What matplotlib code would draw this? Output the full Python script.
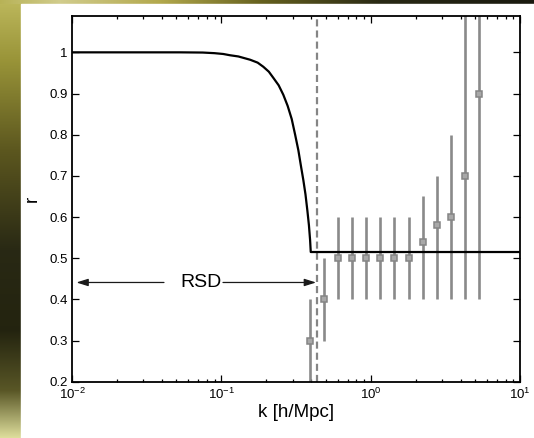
import matplotlib
matplotlib.use('Agg')
import matplotlib.pyplot as plt
import numpy as np
from matplotlib.ticker import FormatStrFormatter, LogLocator

plt.rcParams['font.family'] = ['Liberation Sans', 'DejaVu Sans']
plt.rcParams['mathtext.fontset'] = 'custom'
plt.rcParams['mathtext.rm'] = 'Liberation Sans'
plt.rcParams['mathtext.it'] = 'Liberation Sans:italic'

# model curve r(k)
k_curve = [0.01, 0.0528, 0.075, 0.09, 0.103, 0.114, 0.13, 0.156, 0.175, 0.191, 0.208,
           0.223, 0.242, 0.260, 0.278, 0.296, 0.312, 0.328, 0.342, 0.354, 0.366,
           0.377, 0.386, 0.393, 0.397, 10.0]
r_curve = [1.0, 1.0, 0.9995, 0.998, 0.996, 0.993, 0.990, 0.982, 0.975, 0.965, 0.953,
           0.938, 0.920, 0.897, 0.870, 0.838, 0.800, 0.762, 0.722, 0.690, 0.655,
           0.615, 0.580, 0.544, 0.515, 0.515]

# measured points with error ranges
k_pts = [0.393, 0.488, 0.608, 0.754, 0.936, 1.16, 1.44, 1.80, 2.23, 2.77, 3.44, 4.29, 5.32]
r_pts = [0.30, 0.40, 0.50, 0.50, 0.50, 0.50, 0.50, 0.50, 0.54, 0.58, 0.60, 0.70, 0.90]
r_lo = [0.15, 0.30, 0.40, 0.40, 0.40, 0.40, 0.40, 0.40, 0.40, 0.40, 0.40, 0.40, 0.40]
r_hi = [0.40, 0.50, 0.60, 0.60, 0.60, 0.60, 0.60, 0.60, 0.65, 0.70, 0.80, 1.30, 1.40]

k_rsd = 0.436
yticks = [0.2, 0.3, 0.4, 0.5, 0.6, 0.7, 0.8, 0.9, 1.0]

W, H = 534, 438
fig = plt.figure(figsize=(W / 100, H / 100), dpi=100)

# textured backdrop strips (left and top) like the slide background
bg = fig.add_axes([0, 0, 1, 1])
bg.set_xlim(0, W)
bg.set_ylim(H, 0)
bg.axis('off')
ys = np.arange(H)
col_y = np.stack([np.interp(ys, [0, 60, 150, 250, 330, 390, 438], c) for c in
                  ([0.74, 0.60, 0.36, 0.16, 0.14, 0.35, 0.88],
                   [0.72, 0.58, 0.34, 0.16, 0.14, 0.34, 0.88],
                   [0.36, 0.22, 0.12, 0.08, 0.06, 0.15, 0.62])], axis=-1)
bg.imshow(col_y[:, None, :], extent=[0, 21, H, 0], aspect='auto')
xs = np.arange(W)
col_x = np.stack([np.interp(xs, [0, 60, 160, 260, 380, 534], c) for c in
                  ([0.72, 0.82, 0.70, 0.40, 0.16, 0.10],
                   [0.70, 0.80, 0.66, 0.38, 0.16, 0.10],
                   [0.34, 0.55, 0.30, 0.12, 0.08, 0.06])], axis=-1)
bg.imshow(col_x[None, :, :], extent=[0, W, 4, 0], aspect='auto')
bg.add_patch(plt.Rectangle((21, 4), W - 21, H - 4, color='white', zorder=3))

ax = fig.add_axes([72 / W, 1 - 381.7 / H, 448 / W, 366 / H])
ax.set_xscale('log')

yerr = [np.array(r_pts) - np.array(r_lo), np.array(r_hi) - np.array(r_pts)]
ax.errorbar(k_pts, r_pts, yerr=yerr, fmt='s', color='#8a8a8a', ecolor='#8a8a8a',
            elinewidth=1.9, capsize=0, ms=4.3, mfc='#a8a8a8', mec='#858585', mew=1.1,
            zorder=2)
ax.axvline(k_rsd, color='#858585', lw=1.6, ls=(0, (3.2, 1.8)), zorder=1)
ax.plot(k_curve, r_curve, color='black', lw=1.6, zorder=3)

# RSD label with arrows
ax.text(0.0726, 0.441, 'RSD', ha='center', va='center', fontsize=14)
arr = dict(arrowstyle='-|>,head_length=0.7,head_width=0.22', color='#1a1a1a', lw=0.9,
           shrinkA=0, shrinkB=0)
ax.annotate('', xy=(0.0107, 0.441), xytext=(0.0413, 0.441), arrowprops=arr)
ax.annotate('', xy=(0.431, 0.441), xytext=(0.1026, 0.441), arrowprops=arr)

ax.set_xlim(0.01, 10)
ax.set_ylim(0.2, 1.089)
ax.set_yticks(yticks)
ax.yaxis.set_major_formatter(FormatStrFormatter('%g'))
ax.xaxis.set_major_locator(LogLocator(base=10, numticks=10))
ax.xaxis.set_minor_locator(LogLocator(base=10, subs=np.arange(2, 10), numticks=20))

ax.tick_params(which='both', direction='in', top=True, right=True, labelsize=9.5,
               width=0.9)
ax.tick_params(axis='y', pad=3)
ax.tick_params(axis='x', pad=4)
ax.tick_params(which='major', length=5)
ax.tick_params(which='minor', length=2.5)
for s in ax.spines.values():
    s.set_linewidth(1.3)

ax.set_xlabel('k [h/Mpc]', fontsize=13.5, labelpad=1)
ax.set_ylabel('r', fontsize=13.5, labelpad=6)

fig.savefig('out.png', dpi=100)
